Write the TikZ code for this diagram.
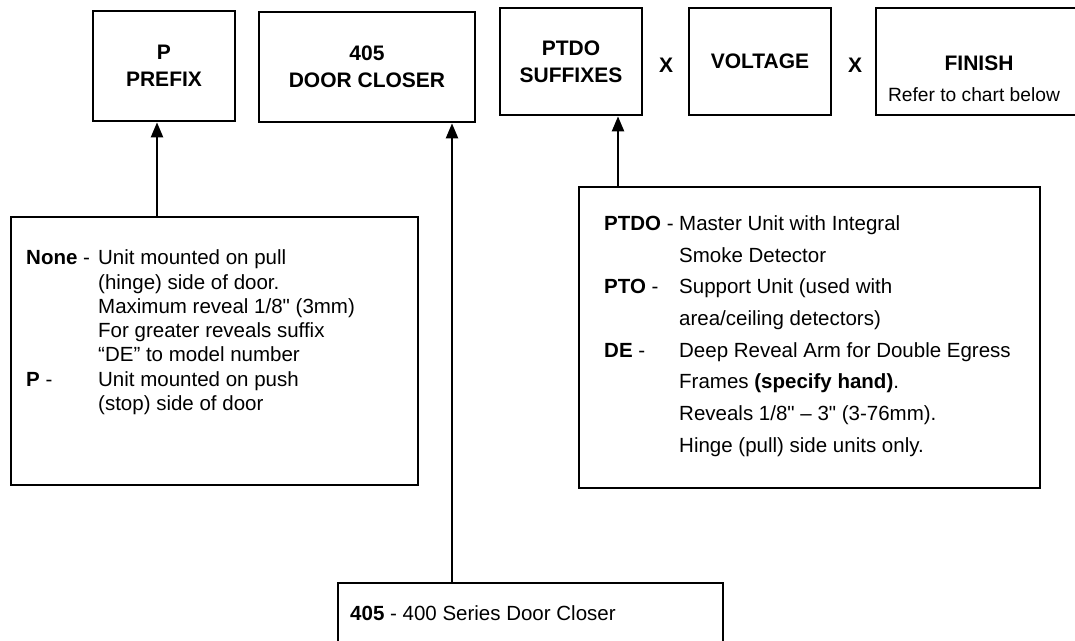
\documentclass[tikz,border=0pt]{standalone}
\usepackage{fontspec}
\setmainfont{Liberation Sans}[Ligatures=TeXOff]
\usetikzlibrary{arrows.meta}
\begin{document}
\begin{tikzpicture}[x=1pt,y=-1pt,
  titlebox/.style={draw, line width=2.7pt, inner sep=0pt, align=center,
    font=\fontsize{21}{27}\selectfont\bfseries},
  descbox/.style={draw, line width=2.7pt, inner sep=0pt},
  desctext/.style={anchor=north west, inner sep=0pt, align=left},
  xmark/.style={font=\fontsize{21}{25}\selectfont\bfseries, inner sep=0pt},
  conn/.style={line width=2.2pt, -{Triangle[length=15pt,width=12pt]}}]
\useasboundingbox (0,0) rectangle (1075,640);
\fill[white] (0,0) rectangle (1075,640);
% title boxes
\node[titlebox, minimum width=142pt, minimum height=110pt] (prefix) at (164,66) {P\\PREFIX};
\node[titlebox, minimum width=216pt, minimum height=110pt] (closer) at (367,67) {405\\DOOR CLOSER};
\node[titlebox, minimum width=142pt, minimum height=107pt] (suffix) at (571,61.5) {PTDO\\SUFFIXES};
\node[xmark] (x1) at (666,65) {X};
\node[titlebox, minimum width=142pt, minimum height=107pt] (voltage) at (760,61.5) {VOLTAGE};
\node[xmark] (x2) at (855,65) {X};
\node[titlebox, minimum width=202pt, minimum height=107pt] (finish) at (977,61.5) {};
\node[xmark] (finishT) at (979,63) {FINISH};
\node[inner sep=0pt, font=\fontsize{19.2}{22}\selectfont] (finishS) at (974,95) {Refer to chart below};
% description boxes
\node[descbox, minimum width=407pt, minimum height=268pt] (pbox) at (214.5,351) {};
\node[descbox, minimum width=461pt, minimum height=301pt] (sbox) at (809.5,337.5) {};
\node[descbox, minimum width=385pt, minimum height=120pt] (cbox) at (530.5,643) {};
% texts
\node[desctext] (ptext) at (26,247.5) {\fontsize{20.5}{24.3}\selectfont
\begin{tabular}{@{}p{72pt}@{}l@{}}
\textbf{None} - & Unit mounted on pull\\
 & (hinge) side of door.\\
 & Maximum reveal 1/8" (3mm)\\
 & For greater reveals suffix\\
 & “DE” to model number\\
\textbf{P} - & Unit mounted on push\\
 & (stop) side of door
\end{tabular}};
\node[desctext] (stext) at (604,208) {\fontsize{20.5}{31.7}\selectfont
\begin{tabular}{@{}p{75pt}@{}l@{}}
\textbf{PTDO} - & Master Unit with Integral\\
 & Smoke Detector\\
\textbf{PTO} - & Support Unit (used with\\
 & area/ceiling detectors)\\
\textbf{DE} - & Deep Reveal Arm for Double Egress\\
 & Frames \textbf{(specify hand)}.\\
 & Reveals 1/8" – 3" (3-76mm).\\
 & Hinge (pull) side units only.
\end{tabular}};
\node[anchor=base west, inner sep=0pt, font=\fontsize{20.5}{24}\selectfont] (ctext) at (350,620.5) {\textbf{405} - 400 Series Door Closer};
% connectors
\draw[conn] (pbox.north -| prefix.south) ++(-7,0) coordinate (pa) -- (pa |- prefix.south);
\draw[conn] (cbox.north -| 452,0) coordinate (ca) -- (ca |- closer.south);
\draw[conn] (sbox.north -| 618,0) coordinate (sa) -- (sa |- suffix.south);
\end{tikzpicture}
\end{document}
